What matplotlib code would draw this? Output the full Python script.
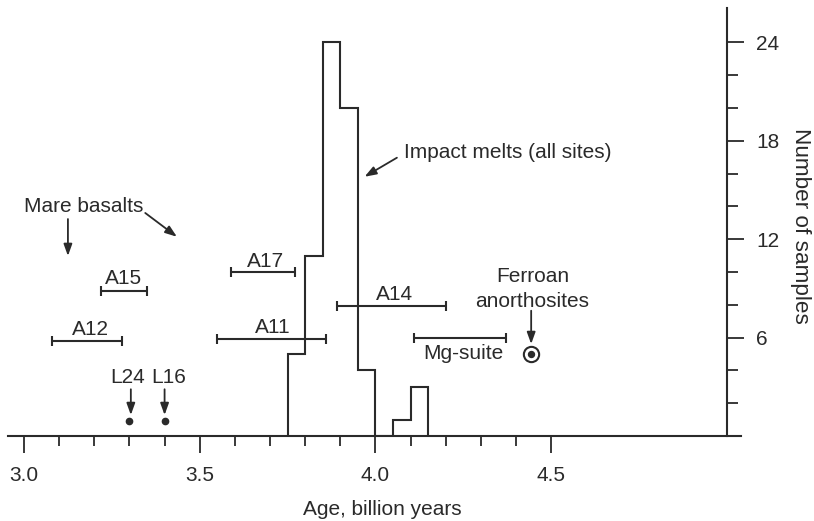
import matplotlib
matplotlib.use('Agg')
import matplotlib.pyplot as plt
from matplotlib.ticker import FixedLocator

plt.rcParams['font.family'] = ['Liberation Sans', 'DejaVu Sans']
plt.rcParams['font.size'] = 15

INK = '#2a2a2a'

# ---------- data ----------
# impact melt ages (all sites), histogram
bin_edges = [3.75, 3.80, 3.85, 3.90, 3.95, 4.00, 4.05, 4.10, 4.15]
melt_counts = [5, 11, 24, 20, 4, 0, 1, 3]

# age ranges of sample groups
range_names = ['A12', 'A15', 'A17', 'A11', 'A14', 'Mg-suite']
range_lo = [3.08, 3.22, 3.59, 3.55, 3.89, 4.11]
range_hi = [3.28, 3.35, 3.77, 3.86, 4.20, 4.37]
range_row = [5.8, 8.85, 10.0, 5.9, 7.95, 5.95]

# Luna samples
luna_names = ['L24', 'L16']
luna_ages = [3.30, 3.40]
luna_row = [0.93, 0.93]

# ferroan anorthosites
ferroan_age = 4.443
ferroan_row = 4.98

x_major = [3.0, 3.5, 4.0, 4.5]
x_minor = [3.1, 3.2, 3.3, 3.4, 3.6, 3.7, 3.8, 3.9, 4.1, 4.2, 4.3, 4.4]
y_major = [6, 12, 18, 24]
y_minor = [2, 4, 8, 10, 14, 16, 20, 22]

# ---------- figure ----------
fig = plt.figure(figsize=(8.14, 5.21), dpi=100)
ax = fig.add_axes([8 / 814, 85 / 521, 733 / 814, 428 / 521])
ax.set_xlim(2.9545, 5.040)
ax.set_ylim(0, 26.1)

for s in ['top', 'left']:
    ax.spines[s].set_visible(False)
ax.spines['right'].set_position(('data', 5.0))
for s in ['bottom', 'right']:
    ax.spines[s].set_linewidth(1.5)
    ax.spines[s].set_color(INK)

ax.xaxis.set_major_locator(FixedLocator(x_major))
ax.xaxis.set_minor_locator(FixedLocator(x_minor))
ax.set_xticklabels(['%.1f' % v for v in x_major])
ax.yaxis.tick_right()
ax.yaxis.set_major_locator(FixedLocator(y_major))
ax.yaxis.set_minor_locator(FixedLocator(y_minor))
ax.tick_params(which='major', direction='out', length=12.5, width=1.3,
               color=INK, labelcolor=INK, labelsize=15)
ax.tick_params(axis='x', which='major', pad=9)
ax.tick_params(axis='y', which='major', pad=8.4)
ax.tick_params(which='minor', direction='out', width=1.3, color=INK)
ax.tick_params(axis='x', which='minor', length=7.5)
ax.tick_params(axis='y', which='minor', length=8)

ax.set_xlabel('Age, billion years', color=INK)
ax.xaxis.set_label_coords(0.511, -0.150)
ax.text(5.209, 12.80, 'Number of samples', rotation=270, ha='center',
        va='center', color=INK, fontsize=16.2, clip_on=False)

# histogram
ax.stairs(melt_counts, bin_edges, color=INK, linewidth=1.5)

# range bars
mids = [(a + b) / 2 for a, b in zip(range_lo, range_hi)]
halfs = [(b - a) / 2 for a, b in zip(range_lo, range_hi)]
ax.errorbar(mids, range_row, xerr=halfs, fmt='none', ecolor=INK,
            elinewidth=1.5, capsize=3.8, capthick=1.5)

label_pos = {
    'A12': (3.190, 6.16), 'A15': (3.282, 9.27), 'A17': (3.686, 10.29),
    'A11': (3.708, 6.26), 'A14': (4.053, 8.29), 'Mg-suite': (4.251, 4.68),
}
for name in range_names:
    x, y = label_pos[name]
    ax.text(x, y, name, ha='center', va='baseline', color=INK)

# luna points
ax.plot(luna_ages, luna_row, 'o', color=INK, ms=4.5)
for name, age in zip(luna_names, luna_ages):
    ax.text(age + (-0.006 if name == 'L24' else 0.013), 3.25, name,
            ha='center', va='baseline', color=INK)

# ferroan anorthosites marker
ax.plot([ferroan_age], [ferroan_row], 'o', mfc='white', mec=INK, mew=1.5, ms=11)
ax.plot([ferroan_age], [ferroan_row], 'o', color=INK, ms=4.3)
ax.text(4.447, 9.41, 'Ferroan', ha='center', va='baseline', color=INK)
ax.text(4.447, 7.88, 'anorthosites', ha='center', va='baseline', color=INK)

ax.text(3.169, 13.68, 'Mare basalts', ha='center', va='baseline', color=INK)
ax.text(4.082, 16.93, 'Impact melts (all sites)', ha='left', va='baseline',
        color=INK)

# arrows
arrow = dict(arrowstyle='-|>,head_length=0.5,head_width=0.18', color=INK,
             lw=1.3, shrinkA=0, shrinkB=0, mutation_scale=14)
arrow_list = [
    ((3.125, 13.23), (3.125, 10.98)),
    ((3.345, 13.60), (3.435, 12.15)),
    ((3.304, 2.85), (3.304, 1.28)),
    ((3.400, 2.85), (3.400, 1.28)),
    ((ferroan_age, 7.64), (ferroan_age, 5.61)),
    ((4.061, 16.97), (3.969, 15.81)),
]
for start, tip in arrow_list:
    ax.annotate('', xy=tip, xytext=start, arrowprops=arrow)

fig.savefig('out.png', dpi=100)
